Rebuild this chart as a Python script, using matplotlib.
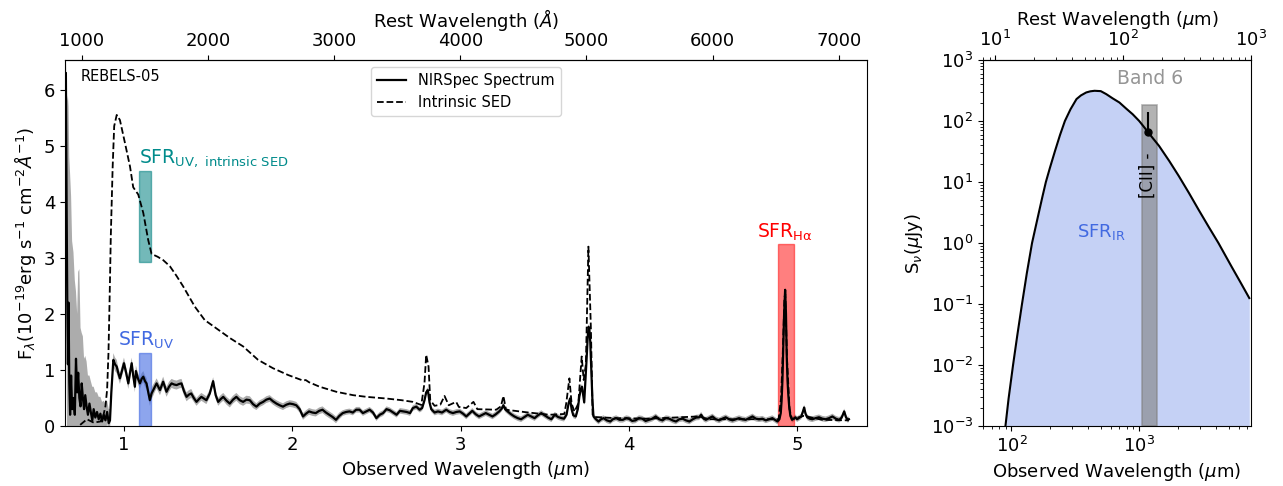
import numpy as np
import matplotlib; matplotlib.use("Agg")
import matplotlib.pyplot as plt
from matplotlib.patches import Rectangle

Z = 6.496   # REBELS-05 redshift

# ---- NIRSpec spectrum (observed um, 1e-19 erg/s/cm2/A) ----
spec_wave = [
    0.652, 0.655, 0.659, 0.663, 0.667, 0.671, 0.675, 0.680, 0.686, 0.692,
    0.700, 0.708, 0.715, 0.722, 0.728, 0.735, 0.742, 0.749, 0.756, 0.763,
    0.770, 0.778, 0.786, 0.795, 0.803, 0.812, 0.820, 0.830, 0.840, 0.850,
    0.860, 0.870, 0.880, 0.890, 0.900, 0.910, 0.917, 0.925, 0.937, 0.947,
    0.957, 0.966, 0.976, 0.988, 1.000, 1.013, 1.026, 1.036, 1.046, 1.055,
    1.065, 1.071, 1.083, 1.095, 1.105, 1.115, 1.125, 1.134, 1.145, 1.154,
    1.164, 1.174, 1.184, 1.194, 1.204, 1.214, 1.224, 1.233, 1.243, 1.253,
    1.268, 1.283, 1.298, 1.313, 1.328, 1.342, 1.357, 1.372, 1.386, 1.400,
    1.415, 1.431, 1.446, 1.460, 1.475, 1.490, 1.510, 1.530, 1.545, 1.560,
    1.575, 1.590, 1.610, 1.629, 1.648, 1.668, 1.688, 1.708, 1.728, 1.748,
    1.767, 1.787, 1.807, 1.827, 1.846, 1.866, 1.886, 1.906, 1.925, 1.945,
    1.965, 1.985, 2.004, 2.024, 2.044, 2.064, 2.082, 2.100, 2.120, 2.140,
    2.160, 2.180, 2.200, 2.220, 2.240, 2.260, 2.280, 2.300, 2.320, 2.340,
    2.360, 2.380, 2.400, 2.420, 2.440, 2.460, 2.480, 2.500, 2.520, 2.540,
    2.560, 2.580, 2.600, 2.620, 2.640, 2.660, 2.680, 2.700, 2.717, 2.737,
    2.757, 2.772, 2.786, 2.796, 2.806, 2.816, 2.826, 2.846, 2.866, 2.890,
    2.915, 2.935, 2.955, 2.975, 2.995, 3.015, 3.034, 3.052, 3.070, 3.090,
    3.110, 3.130, 3.150, 3.170, 3.190, 3.210, 3.230, 3.245, 3.255, 3.265,
    3.280, 3.300, 3.320, 3.340, 3.360, 3.380, 3.400, 3.420, 3.440, 3.460,
    3.480, 3.500, 3.520, 3.540, 3.560, 3.580, 3.600, 3.615, 3.630, 3.642,
    3.651, 3.660, 3.670, 3.685, 3.697, 3.706, 3.715, 3.722, 3.729, 3.735,
    3.742, 3.750, 3.756, 3.761, 3.766, 3.771, 3.778, 3.784, 3.790, 3.805,
    3.820, 3.835, 3.850, 3.870, 3.890, 3.905, 3.925, 3.945, 3.965, 3.985,
    4.000, 4.020, 4.040, 4.060, 4.080, 4.100, 4.120, 4.140, 4.160, 4.180,
    4.200, 4.220, 4.240, 4.260, 4.280, 4.300, 4.320, 4.340, 4.360, 4.380,
    4.400, 4.418, 4.430, 4.445, 4.458, 4.478, 4.497, 4.517, 4.537, 4.556,
    4.576, 4.596, 4.616, 4.635, 4.655, 4.675, 4.695, 4.715, 4.735, 4.755,
    4.774, 4.794, 4.814, 4.833, 4.853, 4.868, 4.883, 4.895, 4.903, 4.908,
    4.913, 4.918, 4.923, 4.929, 4.934, 4.938, 4.943, 4.948, 4.953, 4.960,
    4.970, 4.980, 4.990, 5.000, 5.010, 5.025, 5.035, 5.042, 5.050, 5.060,
    5.075, 5.090, 5.110, 5.130, 5.150, 5.170, 5.190, 5.210, 5.230, 5.250,
    5.265, 5.280, 5.290, 5.300, 5.308,
]
spec_flux = [
    3.4, 6.3, 4.1, 2.3, 1.1, 2.2, 0.8, 0.2, 0.9, 0.3,
    0.5, 0.2, 1.2, 0.6, 0.95, 0.5, 0.35, 0.76, 0.5, 0.3,
    0.55, 0.35, 0.2, 0.4, 0.25, 0.1, 0.3, 0.15, 0.25, 0.12,
    0.22, 0.08, 0.2, 0.1, 0.25, 0.05, 0.1, 0.6, 1.18, 1.10,
    1.06, 0.95, 0.85, 0.98, 1.12, 0.95, 0.76, 0.95, 1.12, 0.90,
    0.70, 0.98, 0.85, 0.76, 0.84, 0.88, 0.80, 0.76, 0.60, 0.46,
    0.58, 0.64, 0.70, 0.76, 0.70, 0.64, 0.72, 0.79, 0.70, 0.61,
    0.70, 0.76, 0.74, 0.73, 0.75, 0.76, 0.62, 0.52, 0.56, 0.58,
    0.50, 0.43, 0.48, 0.52, 0.49, 0.46, 0.58, 0.80, 0.55, 0.43,
    0.48, 0.52, 0.45, 0.40, 0.47, 0.52, 0.46, 0.43, 0.47, 0.46,
    0.39, 0.345, 0.40, 0.43, 0.47, 0.49, 0.44, 0.40, 0.37, 0.345,
    0.38, 0.40, 0.39, 0.37, 0.30, 0.17, 0.22, 0.26, 0.24, 0.23,
    0.27, 0.29, 0.24, 0.20, 0.16, 0.11, 0.18, 0.23, 0.25, 0.26,
    0.24, 0.29, 0.29, 0.23, 0.26, 0.29, 0.24, 0.14, 0.20, 0.23,
    0.30, 0.28, 0.24, 0.20, 0.27, 0.26, 0.25, 0.23, 0.32, 0.345,
    0.29, 0.32, 0.46, 0.60, 0.64, 0.42, 0.30, 0.24, 0.26, 0.24,
    0.29, 0.25, 0.23, 0.25, 0.26, 0.22, 0.17, 0.22, 0.27, 0.21,
    0.17, 0.20, 0.23, 0.20, 0.17, 0.21, 0.26, 0.31, 0.37, 0.30,
    0.26, 0.21, 0.17, 0.14, 0.12, 0.16, 0.20, 0.17, 0.14, 0.19,
    0.23, 0.19, 0.15, 0.12, 0.20, 0.16, 0.14, 0.13, 0.20, 0.40,
    0.49, 0.30, 0.19, 0.17, 0.30, 0.52, 0.66, 0.70, 0.55, 0.42,
    0.80, 1.24, 1.60, 1.77, 1.72, 1.50, 0.95, 0.45, 0.17, 0.12,
    0.08, 0.12, 0.14, 0.10, 0.08, 0.12, 0.14, 0.11, 0.11, 0.14,
    0.13, 0.09, 0.10, 0.14, 0.13, 0.09, 0.11, 0.13, 0.17, 0.12,
    0.10, 0.14, 0.13, 0.10, 0.08, 0.12, 0.13, 0.10, 0.08, 0.12,
    0.15, 0.155, 0.20, 0.13, 0.11, 0.14, 0.17, 0.12, 0.10, 0.13,
    0.155, 0.12, 0.10, 0.12, 0.14, 0.12, 0.11, 0.14, 0.17, 0.13,
    0.12, 0.13, 0.10, 0.12, 0.14, 0.11, 0.08, 0.12, 0.23, 0.45,
    0.82, 1.40, 2.00, 2.43, 2.00, 1.30, 0.82, 0.55, 0.35, 0.18,
    0.11, 0.13, 0.155, 0.12, 0.14, 0.17, 0.26, 0.33, 0.22, 0.155,
    0.13, 0.12, 0.14, 0.155, 0.13, 0.12, 0.14, 0.17, 0.13, 0.11,
    0.15, 0.26, 0.16, 0.11, 0.12,
]
spec_err = [
    3.1, 0.3, 1.9, 3.5, 4.8, 3.5, 4.0, 4.3, 3.2, 3.0,
    2.6, 2.4, 1.2, 1.4, 1.8, 2.3, 1.4, 0.9, 1.1, 0.9,
    0.7, 0.8, 0.7, 0.5, 0.55, 0.6, 0.4, 0.45, 0.35, 0.4,
    0.3, 0.35, 0.25, 0.3, 0.2, 0.25, 0.2, 0.15, 0.12, 0.12,
    0.12, 0.10, 0.10, 0.10, 0.10, 0.10, 0.10, 0.10, 0.10, 0.10,
    0.10, 0.10, 0.10, 0.10, 0.10, 0.10, 0.10, 0.10, 0.10, 0.10,
    0.10, 0.10, 0.09, 0.09, 0.09, 0.09, 0.09, 0.09, 0.09, 0.09,
    0.09, 0.08, 0.08, 0.08, 0.08, 0.08, 0.08, 0.08, 0.08, 0.08,
    0.07, 0.07, 0.07, 0.07, 0.07, 0.07, 0.07, 0.07, 0.07, 0.07,
    0.07, 0.07, 0.07, 0.07, 0.07, 0.07, 0.07, 0.07, 0.07, 0.07,
    0.07, 0.06, 0.06, 0.06, 0.06, 0.06, 0.06, 0.06, 0.06, 0.06,
    0.06, 0.06, 0.06, 0.06, 0.06, 0.06, 0.06, 0.06, 0.06, 0.06,
    0.06, 0.06, 0.06, 0.06, 0.06, 0.06, 0.06, 0.05, 0.05, 0.05,
    0.05, 0.05, 0.05, 0.05, 0.05, 0.05, 0.05, 0.05, 0.05, 0.05,
    0.05, 0.05, 0.05, 0.05, 0.05, 0.05, 0.05, 0.05, 0.05, 0.05,
    0.05, 0.05, 0.05, 0.05, 0.05, 0.05, 0.05, 0.05, 0.05, 0.05,
    0.05, 0.05, 0.05, 0.05, 0.05, 0.05, 0.05, 0.05, 0.05, 0.05,
    0.05, 0.05, 0.05, 0.05, 0.05, 0.05, 0.05, 0.05, 0.05, 0.05,
    0.05, 0.05, 0.05, 0.05, 0.05, 0.05, 0.05, 0.05, 0.05, 0.05,
    0.05, 0.05, 0.05, 0.05, 0.05, 0.05, 0.05, 0.05, 0.05, 0.05,
    0.05, 0.05, 0.05, 0.05, 0.05, 0.05, 0.05, 0.05, 0.05, 0.05,
    0.05, 0.05, 0.05, 0.05, 0.05, 0.05, 0.05, 0.05, 0.05, 0.05,
    0.05, 0.05, 0.05, 0.05, 0.05, 0.05, 0.05, 0.05, 0.05, 0.05,
    0.05, 0.05, 0.05, 0.05, 0.05, 0.05, 0.05, 0.05, 0.05, 0.05,
    0.05, 0.05, 0.05, 0.05, 0.05, 0.05, 0.05, 0.05, 0.05, 0.05,
    0.05, 0.05, 0.05, 0.05, 0.05, 0.05, 0.05, 0.05, 0.05, 0.05,
    0.05, 0.05, 0.05, 0.05, 0.05, 0.05, 0.05, 0.05, 0.05, 0.05,
    0.05, 0.05, 0.05, 0.05, 0.05, 0.05, 0.05, 0.05, 0.05, 0.05,
    0.05, 0.05, 0.05, 0.05, 0.05, 0.05, 0.05, 0.05, 0.05, 0.05,
    0.05, 0.05, 0.05, 0.05, 0.05, 0.05, 0.05, 0.05, 0.05, 0.05,
    0.05, 0.05, 0.05, 0.05, 0.05, 0.05, 0.05, 0.05, 0.05, 0.05,
    0.05, 0.05, 0.05, 0.05, 0.05,
]

# ---- intrinsic SED (dashed) ----
sed_wave = [0.740, 0.780, 0.820, 0.860, 0.875, 0.890, 0.900, 0.908, 0.913, 0.917,
            0.922, 0.933, 0.942, 0.957, 0.976, 1.006, 1.036, 1.055, 1.085, 1.115,
            1.144, 1.164, 1.200, 1.233, 1.273, 1.312, 1.352, 1.421, 1.480, 1.550,
            1.629, 1.708, 1.797, 1.886, 1.975, 2.064, 2.080, 2.100, 2.163, 2.262,
            2.361, 2.440, 2.559, 2.650, 2.717, 2.767, 2.786, 2.796, 2.810, 2.820,
            2.846, 2.880, 2.905, 2.930, 2.974, 2.990, 3.034, 3.077, 3.100, 3.212,
            3.240, 3.255, 3.270, 3.390, 3.528, 3.617, 3.628, 3.647, 3.660, 3.677,
            3.700, 3.720, 3.732, 3.745, 3.760, 3.775, 3.785, 3.800, 3.924, 4.120,
            4.410, 4.480, 4.700, 4.890, 4.905, 4.915, 4.925, 4.930, 4.940, 4.955,
            4.970, 5.040, 5.150, 5.308]
sed_flux = [0.02, 0.12, 0.06, 0.08, 0.15, 0.35, 0.65, 1.3, 2.0, 2.6,
            3.4, 4.63, 5.35, 5.55, 5.46, 5.05, 4.63, 4.26, 4.13, 3.80,
            3.32, 3.07, 3.02, 2.96, 2.85, 2.68, 2.49, 2.13, 1.89, 1.74,
            1.57, 1.42, 1.18, 1.03, 0.91, 0.81, 0.82, 0.78, 0.70, 0.61,
            0.55, 0.52, 0.49, 0.46, 0.43, 0.375, 0.77, 1.27, 1.06, 0.46,
            0.36, 0.38, 0.535, 0.37, 0.43, 0.34, 0.32, 0.43, 0.30, 0.29,
            0.35, 0.535, 0.29, 0.245, 0.20, 0.214, 0.40, 0.85, 0.40, 0.255,
            0.40, 1.24, 0.82, 1.10, 3.20, 1.71, 0.20, 0.16, 0.14, 0.13,
            0.17, 0.12, 0.12, 0.12, 0.50, 1.30, 2.30, 2.35, 1.20, 0.30,
            0.12, 0.18, 0.11, 0.10]

# SFR tracer windows (rest-frame Angstrom) and box heights
uv_rest = (1450, 1550)
ha_rest = (6520, 6645)
uv_int_box = (2.92, 4.55)
uv_obs_box = (0.0, 1.31)
ha_box = (0.0, 3.25)

# ---- dust SED (observed um, uJy) ----
ir_wave = [89.8, 95, 103, 111, 121, 132, 145, 163, 175, 186,
           200, 219, 240, 262, 290, 323, 350, 385, 415, 447,
           500, 552, 620, 700, 790, 889, 1000, 1127, 1280, 1430,
           1720, 2041, 2450, 2916, 3500, 4165, 5277, 6200, 7262]
ir_flux = [1e-3, 2.8e-3, 1e-2, 0.03, 0.1, 0.32, 1.0, 3.0, 5.8, 10,
           17, 32, 59, 100, 156, 229, 263, 294, 307, 313,
           309, 276, 235, 201, 160, 129, 100, 73, 52, 39,
           22, 12.5, 6.6, 3.5, 1.83, 1.0, 0.41, 0.226, 0.125]
cii_wave, cii_flux, cii_lo, cii_hi = 1180, 66, 60, 140
band6 = (1060, 1370, 182)

plt.rcParams['font.size'] = 13
fig = plt.figure(figsize=(12.83, 4.86), dpi=100)
ax = fig.add_axes([0.0507, 0.1235, 0.625, 0.753])
ax2 = fig.add_axes([0.7662, 0.1235, 0.2089, 0.753])

# left: spectrum
w, f, e = np.array(spec_wave), np.array(spec_flux), np.array(spec_err)
ax.fill_between(w, f - e, f + e, color='grey', alpha=0.65, lw=0)
ax.plot(w, f, 'k-', lw=1.6, label='NIRSpec Spectrum')
ax.plot(sed_wave, sed_flux, 'k--', lw=1.3, label='Intrinsic SED')

to_obs = lambda r: r * (1 + Z) / 1e4
ux0, ux1 = to_obs(uv_rest[0]), to_obs(uv_rest[1])
hx0, hx1 = to_obs(ha_rest[0]), to_obs(ha_rest[1])
ax.add_patch(Rectangle((ux0, uv_int_box[0]), ux1 - ux0, uv_int_box[1] - uv_int_box[0],
                       fc='teal', ec='teal', alpha=0.55, lw=1))
ax.add_patch(Rectangle((ux0, uv_obs_box[0]), ux1 - ux0, uv_obs_box[1] - uv_obs_box[0],
                       fc='royalblue', ec='royalblue', alpha=0.6, lw=1))
ax.add_patch(Rectangle((hx0, ha_box[0]), hx1 - hx0, ha_box[1] - ha_box[0],
                       fc='red', ec='red', alpha=0.5, lw=1))
ax.text(ux0, uv_int_box[1] + 0.03, r'SFR$_{\rm UV,\ intrinsic\ SED}$', color='darkcyan',
        fontsize=13.5, va='bottom', ha='left')
ax.text(0.965, uv_obs_box[1] + 0.02, r'SFR$_{\rm UV}$', color='royalblue',
        fontsize=13.5, va='bottom', ha='left')
ax.text(4.763, ha_box[1] + 0.02, r'SFR$_{\rm H\alpha}$', color='red',
        fontsize=13.5, va='bottom', ha='left')
ax.text(0.019, 0.975, 'REBELS-05', transform=ax.transAxes, va='top', fontsize=10.5)

ax.set_xlim(0.65, 5.415)
ax.set_ylim(0, 6.53)
ax.set_xticks([1, 2, 3, 4, 5])
ax.set_yticks([0, 1, 2, 3, 4, 5, 6])
ax.set_xlabel(r'Observed Wavelength ($\mu$m)')
ax.set_ylabel(r'F$_\lambda$(10$^{-19}$erg s$^{-1}$ cm$^{-2}$$\AA^{-1}$)')
ax.legend(loc='upper center', fontsize=10.5)
top = ax.secondary_xaxis('top', functions=(lambda x: x * 1e4 / (1 + Z),
                                           lambda x: x * (1 + Z) / 1e4))
top.set_xticks([1000, 2000, 3000, 4000, 5000, 6000, 7000])
top.set_xlabel(r'Rest Wavelength ($\AA$)')

# right: dust continuum
ax2.set_xscale('log'); ax2.set_yscale('log')
ax2.fill_between(ir_wave, 1e-5, ir_flux, color='royalblue', alpha=0.3, lw=0)
ax2.plot(ir_wave, ir_flux, 'k-', lw=1.5)
ax2.add_patch(Rectangle((band6[0], 1e-3), band6[1] - band6[0], band6[2],
                        fc='grey', ec='grey', alpha=0.6, lw=1.2))
ax2.errorbar([cii_wave], [cii_flux], yerr=[[cii_flux - cii_lo], [cii_hi - cii_flux]],
             fmt='o', color='k', ms=5, lw=1.5)
ax2.text(675, 350, 'Band 6', color='#959595', fontsize=13.5, va='bottom', ha='left')
ax2.text(323, 1.5, r'SFR$_{\rm IR}$', color='royalblue', fontsize=13, va='center', ha='left')
ax2.text(1174, 13, '[CII] -', rotation=90, ha='center', va='center', fontsize=12)
ax2.set_xlim(8 * (1 + Z), 1000 * (1 + Z))
ax2.set_ylim(1e-3, 1e3)
ax2.set_xlabel(r'Observed Wavelength ($\mu$m)')
ax2.set_ylabel(r'S$_\nu$($\mu$Jy)')
top2 = ax2.secondary_xaxis('top', functions=(lambda x: x / (1 + Z), lambda x: x * (1 + Z)))
top2.set_xlabel(r'Rest Wavelength ($\mu$m)')

fig.savefig('out.png', dpi=100)
